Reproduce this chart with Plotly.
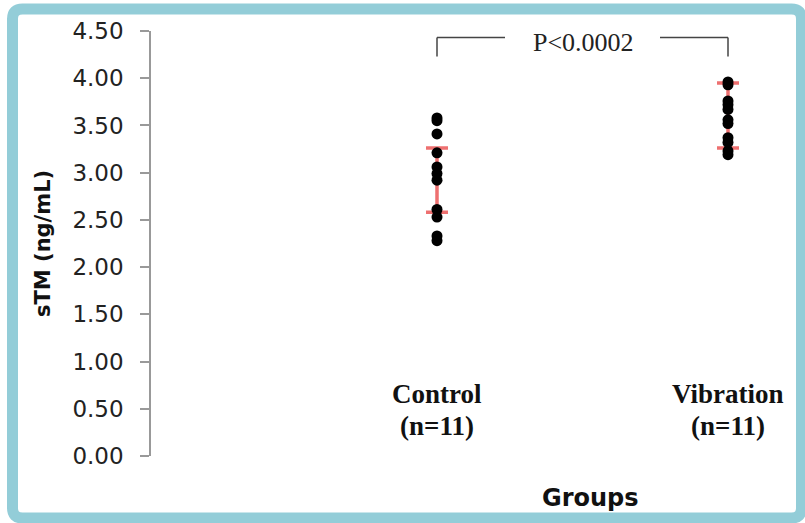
import plotly.graph_objects as go

# ---- data ----
groups = ["Control", "Vibration"]
group_n = ["(n=11)", "(n=11)"]
control_values = [3.58, 3.55, 3.41, 3.21, 3.06, 2.99, 2.92, 2.61, 2.53, 2.33, 2.28]
vibration_values = [3.96, 3.93, 3.76, 3.72, 3.67, 3.56, 3.52, 3.37, 3.32, 3.23, 3.19]
error_centers = [2.92, 3.605]
error_sd = [0.34, 0.345]
y_ticks = [0.0, 0.5, 1.0, 1.5, 2.0, 2.5, 3.0, 3.5, 4.0, 4.5]
y_ticktext = ["%.2f" % v for v in y_ticks]
p_text = "P<0.0002"
bracket_top = 4.43
bracket_bottom = 4.23

group_pos = [1, 2]

W, H = 805, 523
L, R, T, B = 151, 15, 31, 67
pw, ph = W - L - R, H - T - B


def px(xp):
    return (xp - L) / pw


def py(yp):
    return (H - B - yp) / ph


fig = go.Figure()

# error bars (mean +/- SD)
fig.add_trace(go.Scatter(
    x=group_pos, y=error_centers, mode="markers",
    marker=dict(size=1, opacity=0),
    error_y=dict(type="data", array=error_sd, symmetric=True,
                 color="rgba(236,96,96,0.9)", thickness=3.5, width=11),
    showlegend=False, hoverinfo="skip"))

fig.add_trace(go.Scatter(
    x=[group_pos[0]] * len(control_values), y=control_values, mode="markers",
    marker=dict(size=11, color="black"), showlegend=False))
fig.add_trace(go.Scatter(
    x=[group_pos[1]] * len(vibration_values), y=vibration_values, mode="markers",
    marker=dict(size=11, color="black"), showlegend=False))

shapes = []
# significance bracket
bcol = "#444444"
x_gap_l = 1 + (505 - 437) / 291
x_gap_r = 1 + (660 - 437) / 291
shapes.append(dict(type="line", xref="x", yref="y", x0=group_pos[0], x1=group_pos[0],
                   y0=bracket_bottom, y1=bracket_top, line=dict(color=bcol, width=1.5)))
shapes.append(dict(type="line", xref="x", yref="y", x0=group_pos[0], x1=x_gap_l,
                   y0=bracket_top, y1=bracket_top, line=dict(color=bcol, width=1.5)))
shapes.append(dict(type="line", xref="x", yref="y", x0=x_gap_r, x1=group_pos[1],
                   y0=bracket_top, y1=bracket_top, line=dict(color=bcol, width=1.5)))
shapes.append(dict(type="line", xref="x", yref="y", x0=group_pos[1], x1=group_pos[1],
                   y0=bracket_top, y1=bracket_bottom, line=dict(color=bcol, width=1.5)))

# teal frame with rounded corners
x0, x1, y0, y1, r = 12.5, 801.5, 9, 518, 10
path = (f"M {px(x0+r)},{py(y0)} L {px(x1-r)},{py(y0)} Q {px(x1)},{py(y0)} {px(x1)},{py(y0+r)} "
        f"L {px(x1)},{py(y1-r)} Q {px(x1)},{py(y1)} {px(x1-r)},{py(y1)} "
        f"L {px(x0+r)},{py(y1)} Q {px(x0)},{py(y1)} {px(x0)},{py(y1-r)} "
        f"L {px(x0)},{py(y0+r)} Q {px(x0)},{py(y0)} {px(x0+r)},{py(y0)} Z")
shapes.append(dict(type="path", xref="paper", yref="paper", path=path,
                   line=dict(color="#93CDD8", width=11)))

annotations = []
serif = "Liberation Serif, Times New Roman, serif"
for pos, g, n in zip(group_pos, groups, group_n):
    annotations.append(dict(x=pos, xref="x", y=py(394), yref="paper", text=f"<b>{g}</b>",
                            showarrow=False, font=dict(family=serif, size=27, color="#111111"),
                            xanchor="center", yanchor="middle"))
    annotations.append(dict(x=pos, xref="x", y=py(426), yref="paper", text=f"<b>{n}</b>",
                            showarrow=False, font=dict(family=serif, size=27, color="#111111"),
                            xanchor="center", yanchor="middle"))

annotations.append(dict(x=1 + (583 - 437) / 291, xref="x",
                        y=py(42), yref="paper", text=p_text, showarrow=False,
                        font=dict(family=serif, size=26, color="#222222"),
                        xanchor="center", yanchor="middle"))

annotations.append(dict(x=px(590), xref="paper", y=py(498), yref="paper", text="<b>Groups</b>",
                        showarrow=False, font=dict(family="DejaVu Sans", size=24, color="#111111"),
                        xanchor="center", yanchor="middle"))
annotations.append(dict(x=px(43), xref="paper", y=py(244), yref="paper", text="<b>sTM (ng/mL)</b>",
                        showarrow=False, textangle=-90,
                        font=dict(family="DejaVu Sans", size=21, color="#111111"),
                        xanchor="center", yanchor="middle"))

x_lo = 1 - (437 - L) / 291
x_hi = 1 + (W - R - 437) / 291

fig.update_layout(
    width=W, height=H,
    margin=dict(l=L, r=R, t=T, b=B),
    paper_bgcolor="white", plot_bgcolor="white",
    shapes=shapes, annotations=annotations,
    xaxis=dict(range=[x_lo, x_hi], showgrid=False, zeroline=False, showline=False,
               showticklabels=False, ticks=""),
    yaxis=dict(range=[0, 4.5], tickvals=y_ticks, ticktext=y_ticktext,
               showgrid=False, zeroline=False, showline=True, linecolor="#999999", linewidth=1.5,
               ticks="outside", ticklen=9, tickcolor="#999999", tickwidth=1.5,
               ticklabelstandoff=12,
               tickfont=dict(family="DejaVu Sans", size=23, color="#222222")),
)

fig.write_html("out.html")
